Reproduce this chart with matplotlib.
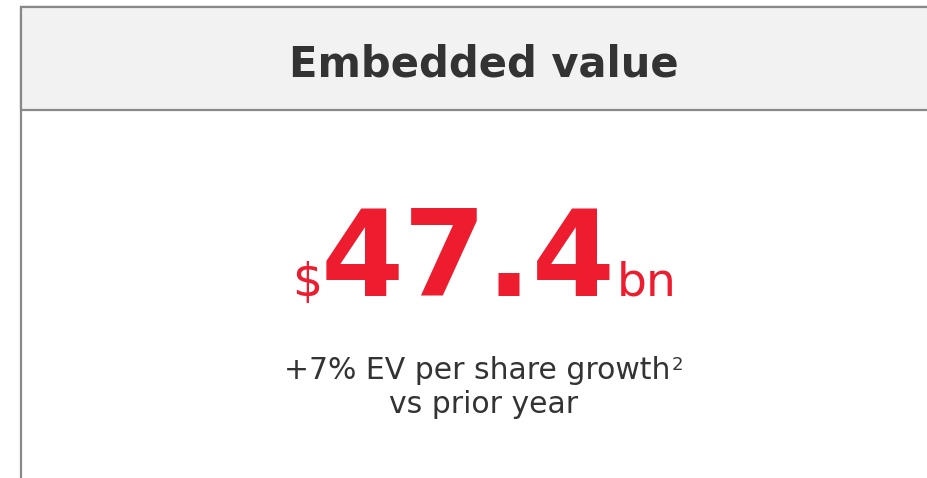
import matplotlib.pyplot as plt
from matplotlib.patches import Rectangle

# contenu du panneau
title = "Embedded value"
prefix = "$"
value = 47.4
suffix = "bn"
growth_pct = 7
note_lines = [f"+{growth_pct}% EV per share growth", "vs prior year"]
footnote = "2"

red = "#ED1C2E"
dark = "#333333"
edge = "#888888"

W, H = 928, 478
fig = plt.figure(figsize=(W / 100, H / 100), dpi=100)
ax = fig.add_axes([0, 0, 1, 1])
ax.set_xlim(0, W)
ax.set_ylim(H, 0)
ax.axis("off")

# cadre + bandeau gris
ax.add_patch(Rectangle((21, 7), 1000, 600, facecolor="white", edgecolor=edge, lw=1.6))
ax.add_patch(Rectangle((21, 7), 1000, 103, facecolor="#F2F2F2", edgecolor=edge, lw=1.6))

ax.text(484, 76, title, ha="center", va="baseline", fontsize=30,
        fontweight="bold", color=dark)

# grand chiffre
ax.text(292, 296, prefix, ha="left", va="baseline", fontsize=34, color=red)
ax.text(468, 296, f"{value:.1f}", ha="center", va="baseline", fontsize=86,
        fontweight="bold", color=red)
ax.text(617, 296, suffix, ha="left", va="baseline", fontsize=34, color=red)

# texte explicatif
ax.text(477, 379, note_lines[0], ha="center", va="baseline", fontsize=21.5, color=dark)
ax.text(672, 370, footnote, ha="left", va="baseline", fontsize=13, color=dark)
ax.text(484, 413, note_lines[1], ha="center", va="baseline", fontsize=21.5, color=dark)

fig.savefig("out.png", dpi=100)
